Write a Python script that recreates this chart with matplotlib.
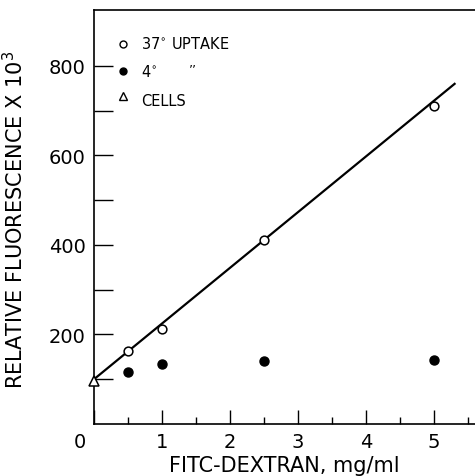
import matplotlib
matplotlib.use("Agg")
import matplotlib.pyplot as plt
import matplotlib.transforms as mtransforms
from matplotlib.ticker import FixedLocator

# Data
uptake37_x = [0.5, 1.0, 2.5, 5.0]
uptake37_y = [164, 213, 410, 711]
cold4_x = [0.5, 1.0, 2.5, 5.0]
cold4_y = [117, 135, 140, 142]
cells_x = [0.0]
cells_y = [97]
fit_x = [0.0, 5.3]
fit_y = [100, 760]

xticks = [0, 1, 2, 3, 4, 5]
xminor = [0.5, 1.5, 2.5, 3.5, 4.5, 5.5]
yticks = [200, 400, 600, 800]
yminor = [100, 300, 500, 700]

FONT = "DejaVu Sans"

fig = plt.figure(figsize=(4.75, 4.77), dpi=100)
ax = fig.add_axes([94/475, 1-425/477, 1-94/475, (425-11)/477])

ax.plot(fit_x, fit_y, color="black", lw=1.6, zorder=2)
ax.plot(uptake37_x, uptake37_y, "o", ms=6.3, mfc="white", mec="black", mew=1.1, zorder=3)
ax.plot(cold4_x, cold4_y, "o", ms=6.5, mfc="black", mec="black", zorder=3)
ax.plot(cells_x, cells_y, "^", ms=7, mfc="white", mec="black", mew=1.1, zorder=3, clip_on=False)

ax.set_xlim(0, 5.6)
ax.set_ylim(0, 925)

ax.spines["right"].set_visible(False)
for s in ["left", "bottom", "top"]:
    ax.spines[s].set_linewidth(1.2)

ax.set_xticks(xticks)
ax.xaxis.set_minor_locator(FixedLocator(xminor))
ax.set_yticks(yticks)
ax.yaxis.set_minor_locator(FixedLocator(yminor))
ax.tick_params(axis="y", which="both", direction="in", length=14, width=1.0, pad=6, labelsize=14)
ax.tick_params(axis="x", which="major", direction="in", length=10, width=1.0, pad=6, labelsize=14)
ax.tick_params(axis="x", which="minor", direction="in", length=5, width=1.0)
for lab in ax.get_xticklabels() + ax.get_yticklabels():
    lab.set_fontfamily(FONT)

# shift the "0" label to the left like the reference
lab0 = ax.get_xticklabels()[0]
off = mtransforms.ScaledTranslation(-14/100, 0, fig.dpi_scale_trans)
lab0.set_transform(lab0.get_transform() + off)

ax.set_ylabel("RELATIVE FLUORESCENCE X 10$^3$", fontfamily=FONT, fontsize=15)
ax.yaxis.set_label_coords((27 - 94) / 381, 0.496)
ax.set_xlabel("FITC-DEXTRAN, mg/ml", fontfamily=FONT, fontsize=15, labelpad=3)

# manual legend (axes coordinates)
axw = 381.0
axh = 414.0
def ax_xy(px, py):
    return ((px - 94) / axw, (425 - py) / axh)

leg = [("o", "white", "37$^{\\circ}$ UPTAKE", 45, 44),
       ("o", "black", "4$^{\\circ}$", 72, 72),
       ("^", "white", "CELLS", 97, 102)]
for m, fc, label, my_px, ty_px in leg:
    mx, my = ax_xy(123, my_px)
    ax.plot([mx], [my], m, ms=5 if m == "o" else 5.5, mfc=fc, mec="black", mew=1.0,
            transform=ax.transAxes, clip_on=False)
    tx, ty = ax_xy(141, ty_px)
    ax.text(tx, ty, label, transform=ax.transAxes, fontfamily=FONT, fontsize=10.5,
            va="center", ha="left")
dx, dy = ax_xy(193, 70)
ax.text(dx, dy, "\u2019\u2019", transform=ax.transAxes, fontfamily=FONT, fontsize=9,
        va="center", ha="center")

fig.savefig("out.png", dpi=100)
